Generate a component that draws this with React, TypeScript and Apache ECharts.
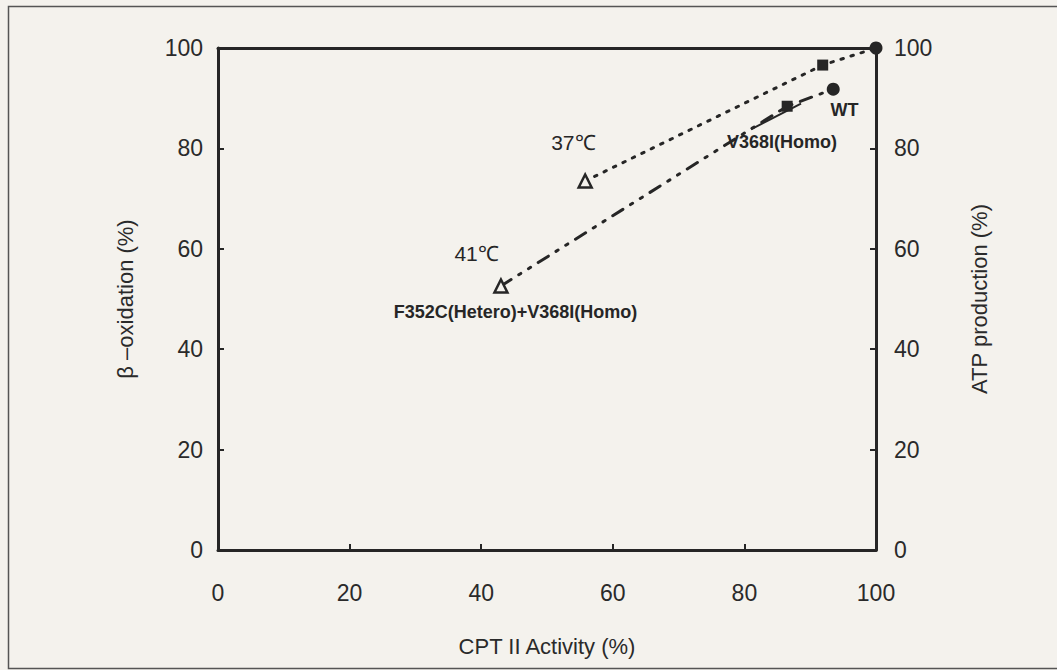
import React, { useEffect, useRef } from "react";
import * as echarts from "echarts";

const xTicks = [0, 20, 40, 60, 80, 100];
const yTicks = [0, 20, 40, 60, 80, 100];

// [CPT II activity %, beta-oxidation %] for each genotype
const series37 = [
  [55.8, 73.5], // F352C(Hetero)+V368I(Homo)
  [91.9, 96.6], // V368I(Homo)
  [100, 100],   // WT
];
const series41 = [
  [43.0, 52.6],
  [86.5, 88.4],
  [93.5, 91.8],
];
const genotypeSymbols = ["triangle", "rect", "circle"];

// annotation anchors (data space)
const annotations = [
  { text: "37℃", pos: [54.0, 81.2], bold: false, size: 21 },
  { text: "41℃", pos: [39.3, 59.0], bold: false, size: 21 },
  { text: "V368I(Homo)", pos: [85.7, 81.2], bold: true, size: 18 },
  { text: "WT", pos: [95.2, 87.6], bold: true, size: 18 },
  { text: "F352C(Hetero)+V368I(Homo)", pos: [45.2, 47.4], bold: true, size: 18 },
];
const leader = [
  [81.0, 83.8],
  [88.6, 88.9],
];

const INK = "#262626";
const BG = "#f4f2ed";

export default function App() {
  const ref = useRef<HTMLDivElement>(null);
  useEffect(() => {
    if (!ref.current) return;
    const chart = echarts.init(ref.current, undefined, { renderer: "svg" });
    const mk = (arr: number[][]) =>
      arr.map((v, i) => {
        const sym = genotypeSymbols[i];
        const hollow = sym === "triangle";
        return {
          value: v,
          symbol: sym,
          symbolSize: sym === "circle" ? 13 : sym === "rect" ? 11 : 13,
          itemStyle: hollow
            ? { color: BG, borderColor: INK, borderWidth: 2.5 }
            : { color: INK, borderColor: INK, borderWidth: 0 },
        };
      });
    const axisLine = { show: true, onZero: false, lineStyle: { color: INK, width: 3 } };
    const tick = { show: true, inside: true, length: 6, lineStyle: { color: INK, width: 2 } };
    const font = "Liberation Sans, Arial, sans-serif";
    const labelColor = "#2a2a2a";
    chart.setOption({
      animation: false,
      backgroundColor: BG,
      textStyle: { fontFamily: font },
      grid: { left: 218, right: 181, top: 48, bottom: 120 },
      xAxis: [
        {
          type: "value",
          min: xTicks[0],
          max: xTicks[xTicks.length - 1],
          interval: 20,
          position: "bottom",
          axisLine,
          axisTick: tick,
          splitLine: { show: false },
          axisLabel: { color: labelColor, fontSize: 23, margin: 31, fontFamily: font },
          name: "CPT II Activity (%)",
          nameLocation: "middle",
          nameGap: 85,
          nameTextStyle: { color: labelColor, fontSize: 22, fontFamily: font },
        },
        {
          type: "value",
          min: 0,
          max: 100,
          position: "top",
          axisLine,
          axisTick: { show: false },
          axisLabel: { show: false },
          splitLine: { show: false },
        },
      ],
      yAxis: [
        {
          type: "value",
          min: yTicks[0],
          max: yTicks[yTicks.length - 1],
          interval: 20,
          position: "left",
          axisLine,
          axisTick: tick,
          splitLine: { show: false },
          axisLabel: { color: labelColor, fontSize: 23, margin: 15, fontFamily: font },
          name: "β –oxidation (%)",
          nameLocation: "middle",
          nameGap: 82,
          nameTextStyle: { color: labelColor, fontSize: 22, fontFamily: font },
        },
        {
          type: "value",
          min: yTicks[0],
          max: yTicks[yTicks.length - 1],
          interval: 20,
          position: "right",
          axisLine,
          axisTick: tick,
          splitLine: { show: false },
          axisLabel: { color: labelColor, fontSize: 23, margin: 18, fontFamily: font },
          name: "ATP production (%)",
          nameLocation: "middle",
          nameGap: 92,
          nameTextStyle: { color: labelColor, fontSize: 22, fontFamily: font },
        },
      ],
      graphic: [
        {
          type: "rect",
          shape: { x: 8.5, y: 6.5, width: 1060, height: 662 },
          style: { fill: "none", stroke: "#555", lineWidth: 1.5 },
          silent: true,
        },
      ],
      series: [
        {
          name: "37",
          type: "line",
          data: mk(series37),
          lineStyle: { color: INK, width: 3, type: [2.5, 8], cap: "round" },
          z: 3,
        },
        {
          name: "41",
          type: "line",
          data: mk(series41),
          lineStyle: { color: INK, width: 3, type: [12, 9, 2.5, 9, 2.5, 9], cap: "round" },
          z: 3,
        },
        {
          name: "leader",
          type: "line",
          data: leader,
          symbol: "none",
          lineStyle: { color: INK, width: 2 },
          z: 2,
        },
        {
          name: "annotations",
          type: "scatter",
          symbolSize: 0,
          itemStyle: { opacity: 1 },
          data: annotations.map((a) => ({
            value: a.pos,
            label: {
              show: true,
              position: "inside",
              formatter: a.text,
              color: INK,
              opacity: 1,
              fontSize: a.size,
              fontWeight: a.bold ? "bold" : "normal",
              fontFamily: font,
            },
          })),
          z: 4,
        },
      ],
    });
    return () => chart.dispose();
  }, []);
  return (
    <div
      ref={ref}
      style={{ position: "absolute", left: 0, top: 0, width: 1057, height: 670 }}
    />
  );
}
